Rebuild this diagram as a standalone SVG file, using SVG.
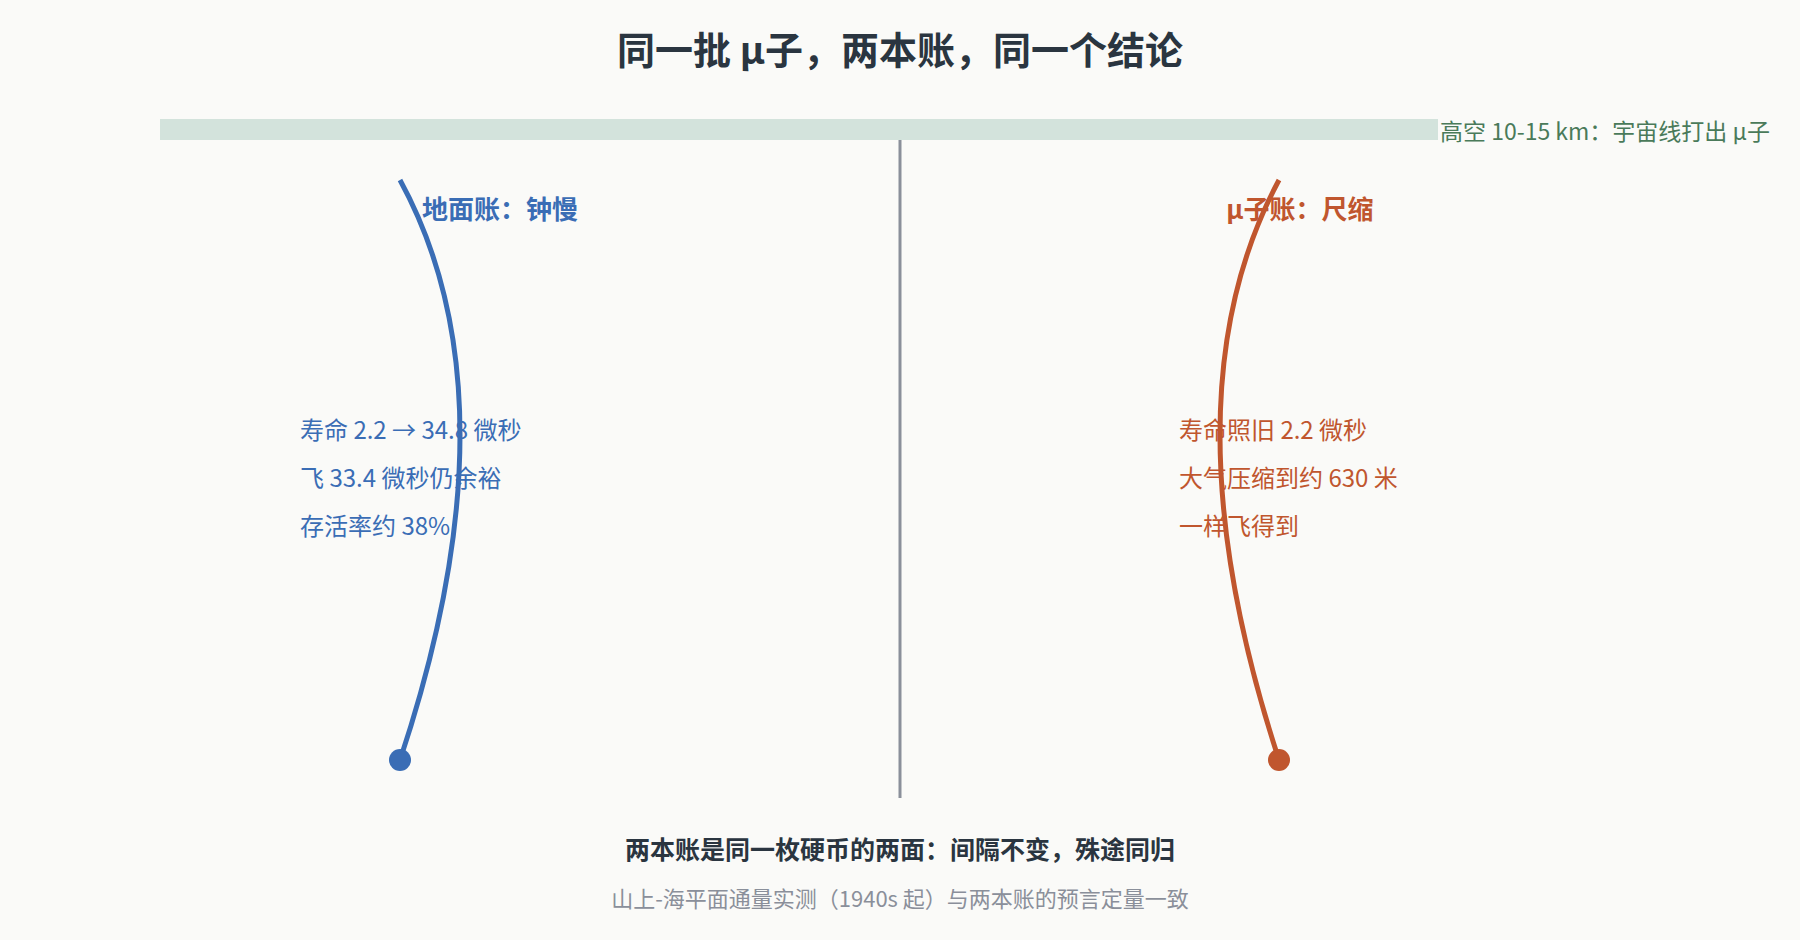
<svg xmlns="http://www.w3.org/2000/svg" width="1800" height="940" viewBox="0 0 1800 940">
<style>
text{font-family:"Noto Sans CJK SC","Noto Sans",sans-serif}
.t{font-size:38px;font-weight:bold;fill:#2a3540;text-anchor:middle}
.h{font-size:26px;font-weight:bold;text-anchor:middle}
.b{font-size:24px}
.blue{fill:#3a6db5}.org{fill:#c0562e}
</style>
<rect width="1800" height="940" fill="#fafaf8"/>
<text class="t" x="900" y="64">同一批 μ子，两本账，同一个结论</text>
<g id="sky">
<rect x="160" y="119" width="1278" height="21" fill="#d3e3dc"/>
<text x="1440" y="140" font-size="23" fill="#4a7a5a">高空 10-15 km：宇宙线打出 μ子</text>
</g>
<g id="connectors" fill="none" stroke-width="5">
<line x1="900" y1="140" x2="900" y2="798" stroke="#8a8f9a" stroke-width="3"/>
<path d="M400 180 Q520 400 400 760" stroke="#3a6db5"/>
<path d="M1279 180 Q1161 400 1279 760" stroke="#c0562e"/>
</g>
<g id="ground">
<circle cx="400" cy="760" r="11" fill="#3a6db5"/>
<text class="h blue" x="500" y="219">地面账：钟慢</text>
<text class="b blue" x="300" y="439">寿命 2.2 → 34.8 微秒</text>
<text class="b blue" x="300" y="487">飞 33.4 微秒仍余裕</text>
<text class="b blue" x="300" y="535">存活率约 38%</text>
</g>
<g id="muon">
<circle cx="1279" cy="760" r="11" fill="#c0562e"/>
<text class="h org" x="1300" y="219">μ子账：尺缩</text>
<text class="b org" x="1179" y="439">寿命照旧 2.2 微秒</text>
<text class="b org" x="1179" y="487">大气压缩到约 630 米</text>
<text class="b org" x="1179" y="535">一样飞得到</text>
</g>
<g id="footer">
<text x="900" y="859" font-size="25" font-weight="bold" fill="#2a3540" text-anchor="middle">两本账是同一枚硬币的两面：间隔不变，殊途同归</text>
<text x="900" y="907" font-size="22" fill="#8a8f9a" text-anchor="middle">山上-海平面通量实测（1940s 起）与两本账的预言定量一致</text>
</g>
</svg>
